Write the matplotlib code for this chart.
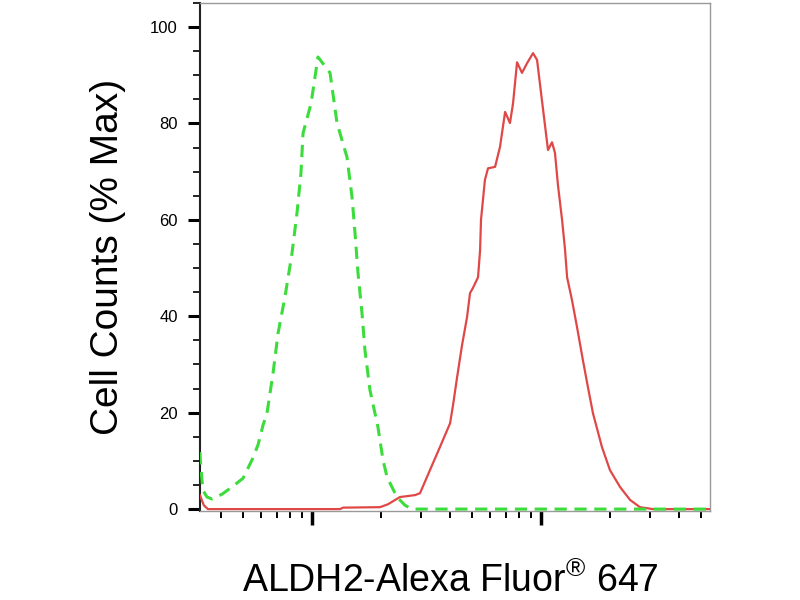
# histograma de citometria: ALDH2 vs control de isotipo

import numpy as np
import matplotlib.pyplot as plt
from matplotlib.ticker import FixedLocator, NullFormatter, MultipleLocator

plt.rcParams['font.family'] = ['Liberation Sans', 'DejaVu Sans']
plt.rcParams['mathtext.fontset'] = 'custom'
plt.rcParams['mathtext.rm'] = 'Liberation Sans'

# datos (intensidad, % del maximo)
control_x = [324, 327, 334, 348, 366, 405, 448, 500, 547, 581, 611, 636, 676, 711,
             762, 818, 860, 895, 914, 991, 1062, 1199, 1286, 1422, 1496, 1541, 1588,
             1653, 1703, 1791, 1941, 2042, 2128, 2350, 2547, 2735, 54700]
control_y = [11.8, 8.7, 3.9, 2.5, 2.1, 3.1, 4.6, 6.4, 10.2, 13.3, 17.4, 19.9, 28.2, 36.5,
             44.0, 53.1, 61.4, 69.7, 78.0, 84.2, 93.8, 90.5, 80.1, 73.0, 64.7, 57.3, 49.0,
             40.7, 33.0, 24.7, 17.0, 10.2, 6.6, 2.5, 0.8, 0.0, 0.0]

aldh2_x = [324, 337, 351, 1326, 1366, 1982, 2147, 2421, 2818, 2963, 3275, 3622, 4008,
           4130, 4297, 4520, 4753, 4898, 5047, 5309, 5420, 5470, 5690, 5870, 6300, 6620,
           6970, 7320, 7550, 7860, 8260, 8690, 9230, 9610, 10090, 10730, 11170, 11510,
           11860, 12360, 12740, 13000, 13650, 14360, 15240, 16030, 16860, 18450, 20000,
           22130, 24490, 27040, 30830, 54700]
aldh2_y = [2.9, 0.8, 0.0, 0.0, 0.3, 0.4, 1.0, 2.5, 2.9, 3.3, 8.1, 12.9, 17.8,
           21.6, 27.2, 34.0, 39.8, 44.8, 45.9, 48.1, 53.7, 60.0, 68.3, 70.7, 71.0, 75.1,
           82.4, 80.1, 84.2, 92.7, 90.5, 92.5, 94.6, 93.2, 84.9, 74.5, 76.1, 73.9,
           67.2, 60.0, 53.7, 48.1, 43.4, 37.8, 30.9, 25.3, 19.9, 12.9, 8.1,
           4.6, 1.9, 0.4, 0.0, 0.0]

y_ticks = [0, 20, 40, 60, 80, 100]

fig = plt.figure(figsize=(8, 6), dpi=100)
ax = fig.add_axes([0.25, 0.1483, 0.6375, 0.8467])

ax.plot(aldh2_x, aldh2_y, color='#e04848', lw=1.6, zorder=3)
ax.plot(control_x, control_y, color='#3ddc3d', lw=2.2, dashes=(4, 2.5), zorder=4)

ax.set_xscale('log')
ax.set_xlim(324.3, 54700)
ax.set_ylim(-0.4, 105)

# ticks eje x sin etiquetas
ax.xaxis.set_major_locator(FixedLocator([1e3, 1e4]))
minors = [m * 10**e for e in (2, 3, 4) for m in range(2, 10)]
ax.xaxis.set_minor_locator(FixedLocator(minors))
ax.xaxis.set_major_formatter(NullFormatter())
ax.xaxis.set_minor_formatter(NullFormatter())
ax.tick_params(axis='x', which='major', direction='out', length=10, width=2.5, color='black')
ax.tick_params(axis='x', which='minor', direction='out', length=5, width=1.4, color='black')

ax.set_yticks(y_ticks)
ax.yaxis.set_minor_locator(MultipleLocator(5))
ax.tick_params(axis='y', which='major', direction='out', length=9, width=2.2,
               labelsize=12, pad=7, color='black')
ax.tick_params(axis='y', which='minor', direction='out', length=5, width=1.2, color='black')

for s in ['top', 'right', 'bottom']:
    ax.spines[s].set_color('#999999')
    ax.spines[s].set_linewidth(1.0)
ax.spines['left'].set_color('#222222')
ax.spines['left'].set_linewidth(1.5)

ax.set_ylabel('Cell Counts (% Max)', fontsize=28)
ax.yaxis.set_label_coords(-0.145, 0.5)
ax.set_xlabel(r'ALDH2-Alexa Fluor$^{®}$ 647', fontsize=27)
ax.xaxis.set_label_coords(0.49, -0.1)

fig.savefig('out.png', dpi=100)
